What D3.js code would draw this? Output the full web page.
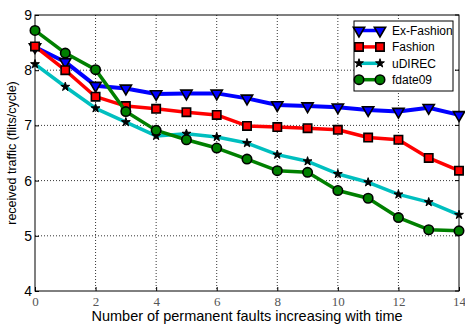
<!DOCTYPE html>
<html>
<head>
<meta charset="utf-8">
<script src="https://cdn.jsdelivr.net/npm/d3@7"></script>
<style>
  html, body { margin: 0; padding: 0; background: #fff; }
  svg { display: block; }
</style>
</head>
<body>
<div id="chart"></div>
<script>
// valeurs
const faults = [0, 1, 2, 3, 4, 5, 6, 7, 8, 9, 10, 11, 12, 13, 14];
const exFashion = [8.42, 8.15, 7.72, 7.67, 7.57, 7.58, 7.58, 7.49, 7.37, 7.35, 7.33, 7.28, 7.25, 7.32, 7.19];
const fashion = [8.43, 8.0, 7.52, 7.35, 7.30, 7.24, 7.19, 6.99, 6.97, 6.95, 6.92, 6.78, 6.74, 6.41, 6.18];
const udirec = [8.11, 7.70, 7.31, 7.06, 6.81, 6.85, 6.79, 6.68, 6.47, 6.35, 6.12, 5.97, 5.75, 5.61, 5.38];
const fdate09 = [8.72, 8.31, 8.01, 7.25, 6.91, 6.74, 6.59, 6.39, 6.18, 6.15, 5.82, 5.68, 5.33, 5.11, 5.09];
const xTicks = [0, 2, 4, 6, 8, 10, 12, 14];
const yTicks = [4, 5, 6, 7, 8, 9];

const series = [
    { name: 'Ex-Fashion', values: exFashion, color: '#0000ff', marker: 'triangle', fill: '#0000ff' },
    { name: 'Fashion', values: fashion, color: '#ff0000', marker: 'square', fill: '#ff0000' },
    { name: 'uDIREC', values: udirec, color: '#00bfbf', marker: 'star', fill: '#000000' },
    { name: 'fdate09', values: fdate09, color: '#008000', marker: 'circle', fill: '#008000' }
];

const width = 465;
const height = 324;
const margin = { top: 15, right: 6, bottom: 33, left: 35 };
const innerWidth = width - margin.left - margin.right;
const innerHeight = height - margin.top - margin.bottom;

const svg = d3.select('#chart')
    .append('svg')
    .attr('width', width)
    .attr('height', height);

const g = svg.append('g')
    .attr('transform', `translate(${margin.left},${margin.top})`);

const x = d3.scaleLinear().domain([0, 14]).range([0, innerWidth]);
const y = d3.scaleLinear().domain([4, 9]).range([innerHeight, 0]);

// grille pointillée
g.append('g')
    .selectAll('line')
    .data(xTicks.slice(1, -1))
    .enter()
    .append('line')
    .attr('x1', (d) => x(d)).attr('x2', (d) => x(d))
    .attr('y1', 0).attr('y2', innerHeight)
    .attr('stroke', '#000').attr('stroke-width', 0.8)
    .attr('stroke-dasharray', '1,2');

g.append('g')
    .selectAll('line')
    .data(yTicks.slice(1, -1))
    .enter()
    .append('line')
    .attr('x1', 0).attr('x2', innerWidth)
    .attr('y1', (d) => y(d)).attr('y2', (d) => y(d))
    .attr('stroke', '#000').attr('stroke-width', 0.8)
    .attr('stroke-dasharray', '1,2');

// cadre
g.append('rect')
    .attr('x', 0).attr('y', 0)
    .attr('width', innerWidth).attr('height', innerHeight)
    .attr('fill', 'none')
    .attr('stroke', '#000').attr('stroke-width', 1);

// axes
const xAxis = g.append('g')
    .attr('transform', `translate(0,${innerHeight})`)
    .call(d3.axisBottom(x).tickValues(xTicks).tickSize(-4).tickPadding(6));
xAxis.select('.domain').remove();
xAxis.selectAll('text')
    .attr('font-family', '"Liberation Serif", "Times New Roman", serif')
    .attr('font-size', '13px')
    .attr('fill', '#555');

const yAxis = g.append('g')
    .call(d3.axisLeft(y).tickValues(yTicks).tickFormat(d3.format('d')).tickSize(-4).tickPadding(3));
yAxis.select('.domain').remove();
yAxis.selectAll('text')
    .attr('font-family', '"Liberation Sans", Arial, sans-serif')
    .attr('font-size', '14px')
    .attr('fill', '#000');

// petits traits à droite
g.append('g')
    .selectAll('line')
    .data(yTicks)
    .enter()
    .append('line')
    .attr('x1', innerWidth - 4).attr('x2', innerWidth)
    .attr('y1', (d) => y(d)).attr('y2', (d) => y(d))
    .attr('stroke', '#000');

// lignes
const line = d3.line()
    .x((d, i) => x(faults[i]))
    .y((d) => y(d));

const symbols = {
    triangle: d3.symbol().type(d3.symbolTriangle).size(55),
    square: d3.symbol().type(d3.symbolSquare).size(70),
    star: d3.symbol().type(d3.symbolStar).size(24),
    circle: d3.symbol().type(d3.symbolCircle).size(70)
};

function drawMarker(sel, s) {
    const path = sel.append('path')
        .attr('d', symbols[s.marker]())
        .attr('fill', s.fill)
        .attr('stroke', '#000')
        .attr('stroke-width', s.marker === 'star' ? 1 : 1.6);
    if (s.marker === 'triangle') {
        path.attr('transform', 'rotate(180)');
    }
    return path;
}

series.forEach((s) => {
    g.append('path')
        .datum(s.values)
        .attr('d', line)
        .attr('fill', 'none')
        .attr('stroke', s.color)
        .attr('stroke-width', s.marker === 'triangle' ? 4 : 3.5)
        .attr('stroke-linejoin', 'round');

    g.append('g')
        .selectAll('g')
        .data(s.values)
        .enter()
        .append('g')
        .attr('transform', (d, i) => `translate(${x(faults[i])},${y(d)})`)
        .each(function () {
            drawMarker(d3.select(this), s);
        });
});

// légende
const legend = svg.append('g')
    .attr('transform', 'translate(354,21)');

legend.append('rect')
    .attr('width', 99).attr('height', 70)
    .attr('fill', '#fff')
    .attr('stroke', '#000').attr('stroke-width', 1);

series.forEach((s, index) => {
    const row = legend.append('g')
        .attr('transform', `translate(0,${9.5 + index * 16.4})`);
    row.append('line')
        .attr('x1', 5).attr('x2', 26)
        .attr('stroke', s.color)
        .attr('stroke-width', 3.5);
    [5, 26].forEach((cx) => {
        const m = row.append('g').attr('transform', `translate(${cx},0)`);
        drawMarker(m, s);
    });
    row.append('text')
        .attr('x', 38)
        .attr('y', 4.5)
        .attr('font-family', '"Liberation Sans", Arial, sans-serif')
        .attr('font-size', '12px')
        .text(s.name);
});

// titres
svg.append('text')
    .attr('x', 247)
    .attr('y', 320.5)
    .attr('text-anchor', 'middle')
    .attr('font-family', '"Liberation Sans", Arial, sans-serif')
    .attr('font-size', '14.5px')
    .text('Number of permanent faults increasing with time');

svg.append('text')
    .attr('transform', `translate(16,${margin.top + innerHeight / 2}) rotate(-90)`)
    .attr('text-anchor', 'middle')
    .attr('font-family', '"Liberation Sans", Arial, sans-serif')
    .attr('font-size', '12.5px')
    .text('received traffic (flits/cycle)');
</script>
</body>
</html>
